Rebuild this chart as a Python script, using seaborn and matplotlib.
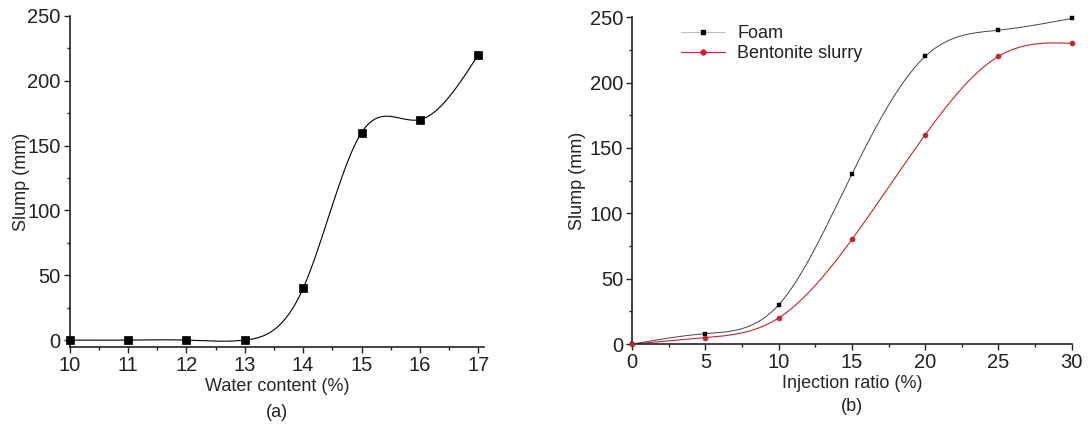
import numpy as np
import pandas as pd
import matplotlib
matplotlib.use('Agg')
import matplotlib.pyplot as plt
from matplotlib.ticker import MultipleLocator
import seaborn as sns

# ── Data ───────────────────────────────────────────────────────────────────
water_content = [10, 11, 12, 13, 14, 15, 16, 17]
slump_water = [0, 0, 0, 0, 40, 160, 170, 220]

injection_ratio = [0, 5, 10, 15, 20, 25, 30]
slump_foam = [0, 8, 30, 130, 220, 240, 249]
slump_bentonite = [0, 5, 20, 80, 160, 220, 230]


def natural_spline(x, y, n=300):
    # natural cubic spline through the points (smooth connecting line)
    x = np.asarray(x, float)
    y = np.asarray(y, float)
    k = len(x)
    h = np.diff(x)
    A = np.zeros((k, k))
    b = np.zeros(k)
    A[0, 0] = A[-1, -1] = 1
    for i in range(1, k - 1):
        A[i, i - 1] = h[i - 1]
        A[i, i] = 2 * (h[i - 1] + h[i])
        A[i, i + 1] = h[i]
        b[i] = 6 * ((y[i + 1] - y[i]) / h[i] - (y[i] - y[i - 1]) / h[i - 1])
    M = np.linalg.solve(A, b)
    xs = np.linspace(x[0], x[-1], n)
    idx = np.clip(np.searchsorted(x, xs) - 1, 0, k - 2)
    x0, x1 = x[idx], x[idx + 1]
    hh = x1 - x0
    ys = (M[idx] * (x1 - xs) ** 3 / (6 * hh) + M[idx + 1] * (xs - x0) ** 3 / (6 * hh)
          + (y[idx] / hh - M[idx] * hh / 6) * (x1 - xs)
          + (y[idx + 1] / hh - M[idx + 1] * hh / 6) * (xs - x0))
    return xs, ys


sns.set_theme(style='ticks')
plt.rcParams['font.family'] = ['Liberation Sans', 'DejaVu Sans']
plt.rcParams['font.size'] = 13
plt.rcParams['text.color'] = '#222222'

fig = plt.figure(figsize=(10.88, 4.28), dpi=100)
ax1 = fig.add_axes([0.064, 0.189, 0.381, 0.774])
ax2 = fig.add_axes([0.581, 0.196, 0.404, 0.764])

# ── (a) Water content ─────────────────────────────────────────────────────
xs, ys = natural_spline(water_content, slump_water)
sns.lineplot(x=xs, y=ys, ax=ax1, color='black', linewidth=0.8)
sns.scatterplot(x=water_content, y=slump_water, ax=ax1, marker='s', s=40,
                color='black', edgecolor='black', zorder=5, clip_on=False)
ax1.set_xlim(10, 17.1)
ax1.set_ylim(-5.4, 250)
ax1.set_xlabel('Water content (%)', fontsize=13, labelpad=2)
ax1.set_ylabel('Slump (mm)', fontsize=13, labelpad=-2)
ax1.text(0.5, -0.197, '(a)', transform=ax1.transAxes, ha='center', va='center', fontsize=13)

# ── (b) Injection ratio ───────────────────────────────────────────────────
fx, fy = natural_spline(injection_ratio, slump_foam)
bx, by = natural_spline(injection_ratio, slump_bentonite)
sns.lineplot(x=fx, y=fy, ax=ax2, color='#444444', linewidth=0.7)
sns.lineplot(x=bx, y=by, ax=ax2, color='#c0282d', linewidth=0.8)
sns.scatterplot(x=injection_ratio, y=slump_foam, ax=ax2, marker='s', s=12,
                color='black', edgecolor='black', zorder=5, clip_on=False)
sns.scatterplot(x=injection_ratio, y=slump_bentonite, ax=ax2, marker='o', s=14,
                color='#c0282d', edgecolor='#c0282d', zorder=5, clip_on=False)
ax2.set_xlim(0, 30)
ax2.set_ylim(0, 250)
ax2.set_xlabel('Injection ratio (%)', fontsize=13, labelpad=2)
ax2.set_ylabel('Slump (mm)', fontsize=13, labelpad=3)
ax2.text(0.5, -0.19, '(b)', transform=ax2.transAxes, ha='center', va='center', fontsize=13)
h1 = plt.Line2D([0], [0], color='#bbbbbb', lw=0.7, marker='s', ms=3,
                mfc='black', mec='black', label='Foam')
h2 = plt.Line2D([0], [0], color='#c0282d', lw=0.8, marker='o', ms=3.5,
                mfc='#c0282d', mec='#c0282d', label='Bentonite slurry')
ax2.legend(handles=[h1, h2], loc='upper left', bbox_to_anchor=(0.075, 1.025),
           frameon=False, fontsize=13, handlelength=2.4, handletextpad=0.7,
           labelspacing=0.15)

for ax in (ax1, ax2):
    sns.despine(ax=ax)
    ax.spines['left'].set_linewidth(1.2)
    ax.spines['bottom'].set_linewidth(1.2)
    ax.spines['left'].set_color('#222222')
    ax.spines['bottom'].set_color('#222222')
    ax.xaxis.set_major_locator(MultipleLocator(1 if ax is ax1 else 5))
    ax.xaxis.set_minor_locator(MultipleLocator(0.5 if ax is ax1 else 2.5))
    ax.yaxis.set_major_locator(MultipleLocator(50))
    ax.yaxis.set_minor_locator(MultipleLocator(25))
    ax.tick_params(which='major', direction='out', length=4.5, width=1, labelsize=14.5,
                   pad=2, colors='#222222')
    ax.tick_params(which='minor', direction='out', length=2.5, width=1, colors='#222222')
    ax.grid(False)

fig.savefig('out.png', dpi=100)
